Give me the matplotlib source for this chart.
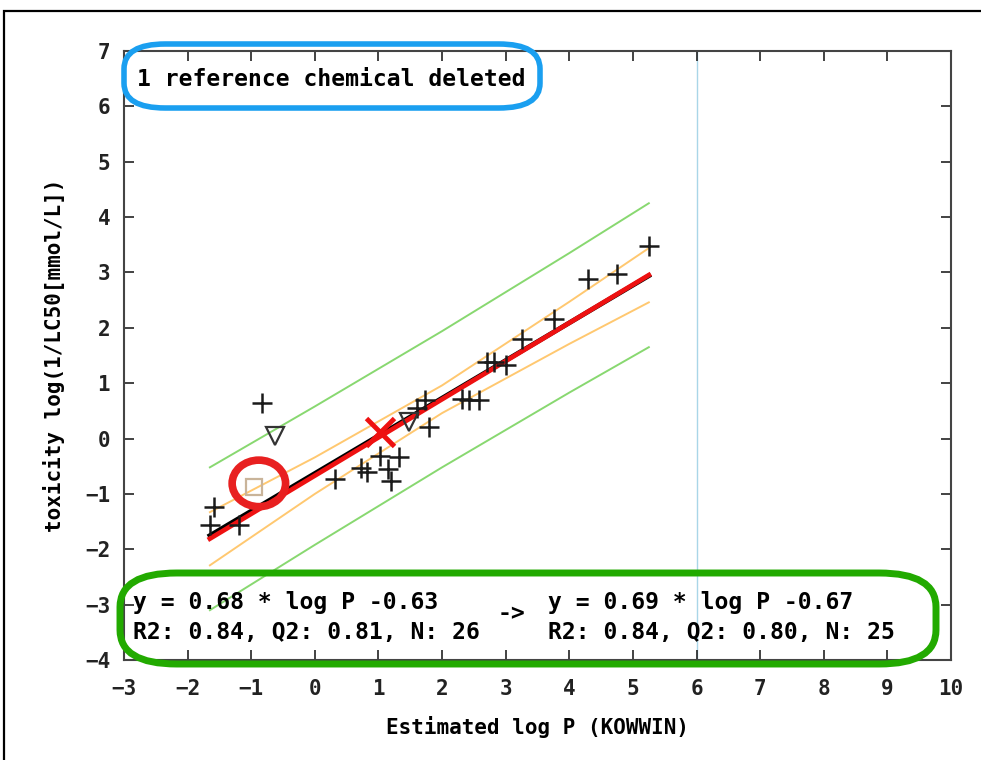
import matplotlib
matplotlib.use('Agg')
import matplotlib.pyplot as plt
import numpy as np
from matplotlib.patches import FancyBboxPatch, Ellipse, Rectangle

plt.rcParams['font.family'] = ['DejaVu Sans Mono']
plt.rcParams['font.weight'] = 'bold'
plt.rcParams['axes.labelweight'] = 'bold'

# measured chemicals (log P, toxicity)
plus_x = [-0.83, -1.58, -1.65, -1.20, 0.32, 0.72, 0.82, 1.03, 1.32, 1.15, 1.19, 1.80,
          1.60, 1.73, 2.32, 2.42, 2.58, 2.71, 2.82, 3.00, 3.26, 3.76, 4.30, 4.75, 5.25]
plus_y = [0.64, -1.24, -1.56, -1.57, -0.73, -0.54, -0.60, -0.31, -0.33, -0.55, -0.76, 0.20,
          0.55, 0.70, 0.72, 0.69, 0.69, 1.38, 1.38, 1.32, 1.80, 2.16, 2.89, 2.98, 3.47]
tri_x = [-0.62, 1.48]
tri_y = [0.05, 0.29]
deleted_x = [-0.96]
deleted_y = [-0.87]
query_x = [1.03]
query_y = [0.11]

# regression before / after deletion
fit_range = [-1.65, 5.25]
old_slope, old_icpt = 0.68, -0.63
new_slope, new_icpt = 0.69, -0.67

# confidence / prediction bands
band_x = [-1.65, 0.0, 2.0, 4.0, 5.25]
conf_hi = [-1.33, -0.34, 0.96, 2.47, 3.44]
conf_lo = [-2.29, -1.00, 0.46, 1.71, 2.46]
pred_hi = [-0.52, 0.58, 1.94, 3.35, 4.25]
pred_lo = [-3.10, -1.92, -0.52, 0.83, 1.65]

fig = plt.figure(figsize=(9.81, 7.6), dpi=100)
ax = fig.add_axes([124/981, 1-660/760, 827/981, 609/760])

ax.axvline(6, color='#a9d6e8', lw=1.0, zorder=1)
ax.plot(band_x, pred_hi, color='#88d870', lw=1.4, zorder=2)
ax.plot(band_x, pred_lo, color='#88d870', lw=1.4, zorder=2)
ax.plot(band_x, conf_hi, color='#ffc870', lw=1.4, zorder=2)
ax.plot(band_x, conf_lo, color='#ffc870', lw=1.4, zorder=2)

fx = np.array(fit_range)
ax.plot(fx, old_slope*fx + old_icpt, color='black', lw=3.4, zorder=3)
ax.plot(fx, new_slope*fx + new_icpt, color='#ee1111', lw=3.4, zorder=4)

ax.plot(plus_x, plus_y, '+', color='#1a1a1a', ms=14, mew=1.8, zorder=5)
ax.plot(tri_x, tri_y, 'v', mfc='none', mec='#333333', ms=13, mew=1.6, zorder=5)
ax.plot(deleted_x, deleted_y, 's', mfc='none', mec='#c9b49a', ms=11, mew=1.6, zorder=5)
ax.plot(query_x, query_y, 'x', color='#ee1111', ms=20, mew=3.5, zorder=6)
ax.add_patch(Ellipse((deleted_x[0] + 0.08, deleted_y[0] + 0.06), 0.84, 0.84, fill=False,
                     ec='#e82020', lw=5.5, zorder=7))

ax.set_xlim(-3, 10)
ax.set_ylim(-4, 7)
ax.set_xticks(range(-3, 11))
ax.set_yticks(range(-4, 8))
ax.tick_params(direction='in', length=7, width=1.2, top=True, right=True,
               labelsize=15, colors='#222222')
ax.tick_params(axis='x', pad=14)
ax.tick_params(axis='y', pad=10)
for s in ax.spines.values():
    s.set_color('#444444')
    s.set_linewidth(1.5)
ax.set_xlabel('Estimated log P (KOWWIN)', fontsize=15, labelpad=12)
ax.set_ylabel('toxicity log(1/LC50[mmol/L])', fontsize=15, labelpad=14)

# annotation boxes (figure pixel coordinates)
W, H = 981.0, 760.0
def fbox(x0, y0, x1, y1, r, color, lw):
    fig.patches.append(FancyBboxPatch((x0/W, 1-y1/H), (x1-x0)/W, (y1-y0)/H,
                                      boxstyle='round,pad=0,rounding_size=%f' % (r/H),
                                      transform=fig.transFigure, fill=False,
                                      ec=color, lw=lw, zorder=10, mutation_aspect=H/W))
fbox(124, 44, 540, 108, 32, '#1a9ff0', 4)
fbox(120, 573, 936, 664, 44, '#22aa00', 5)

fs = 16.6
fig.text(137/W, 1-79/H, '1 reference chemical deleted', fontsize=fs, va='center')
fig.text(133/W, 1-603/H, 'y = 0.68 * log P -0.63', fontsize=fs, va='center')
fig.text(133/W, 1-633/H, 'R2: 0.84, Q2: 0.81, N: 26', fontsize=fs, va='center')
fig.text(498/W, 1-614/H, '->', fontsize=fs, va='center')
fig.text(548/W, 1-603/H, 'y = 0.69 * log P -0.67', fontsize=fs, va='center')
fig.text(548/W, 1-633/H, 'R2: 0.84, Q2: 0.80, N: 25', fontsize=fs, va='center')

fig.patches.append(Rectangle((4/W, -0.1), 1.2, 1.1 - 11/H, transform=fig.transFigure,
                             fill=False, ec='black', lw=1.6))

plt.savefig('out.png', dpi=100)
plt.close()
